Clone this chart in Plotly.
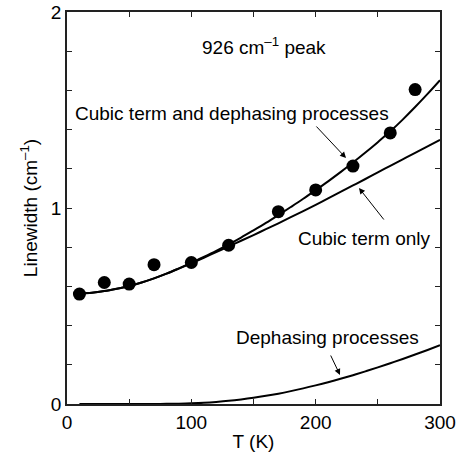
import plotly.graph_objects as go

# measured points
T_data = [10, 30, 50, 70, 100, 130, 170, 200, 230, 260, 280]
W_data = [0.561, 0.620, 0.612, 0.711, 0.722, 0.810, 0.981, 1.092, 1.214, 1.383, 1.604]

# fitted curves
T_fit = [10, 20, 30, 40, 50, 60, 70, 80, 90, 100,
         110, 120, 130, 140, 150, 160, 170, 180, 190, 200,
         210, 220, 230, 240, 250, 260, 270, 280, 290, 300]
W_total = [0.565, 0.568, 0.576, 0.588, 0.602, 0.620, 0.641, 0.665, 0.692, 0.720,
           0.750, 0.781, 0.814, 0.849, 0.886, 0.924, 0.964, 1.005, 1.047, 1.091,
           1.136, 1.183, 1.232, 1.283, 1.336, 1.391, 1.451, 1.515, 1.582, 1.652]
W_cubic = [0.565, 0.568, 0.576, 0.588, 0.602, 0.620, 0.641, 0.665, 0.691, 0.718,
           0.746, 0.775, 0.804, 0.833, 0.862, 0.892, 0.922, 0.953, 0.984, 1.016,
           1.049, 1.082, 1.115, 1.148, 1.182, 1.215, 1.248, 1.281, 1.315, 1.348]
W_deph = [0.0, 0.0, 0.0, 0.0, 0.0, 0.0001, 0.0002, 0.0007, 0.0018, 0.0037,
          0.0066, 0.0108, 0.0163, 0.0233, 0.0317, 0.0416, 0.0528, 0.0656, 0.0796, 0.0949,
          0.1111, 0.1286, 0.1471, 0.1665, 0.1868, 0.2080, 0.2299, 0.2525, 0.2757, 0.2997]

x_ticks = [0, 50, 100, 150, 200, 250, 300]
x_labels = ["0", "", "100", "", "200", "", "300"]
y_ticks = [0, 0.2, 0.4, 0.6, 0.8, 1.0, 1.2, 1.4, 1.6, 1.8, 2.0]
y_labels = ["0", "", "", "", "", "1", "", "", "", "", "2"]

FONT = "Arial, 'Liberation Sans', sans-serif"
FS = 19
ink = "black"

fig = go.Figure()
for yv in (W_total, W_cubic, W_deph):
    fig.add_trace(go.Scatter(x=T_fit, y=yv, mode="lines", line=dict(color=ink, width=2, shape="spline"),
                             hoverinfo="skip", showlegend=False))
fig.add_trace(go.Scatter(x=T_data, y=W_data, mode="markers",
                         marker=dict(color=ink, size=13, line=dict(width=0)), showlegend=False))

axis_common = dict(showline=True, linecolor="#222", linewidth=1.5, mirror="ticks",
                   ticks="inside", ticklen=5, tickwidth=1, tickcolor="#222",
                   showgrid=False, zeroline=False, automargin=False,
                   tickfont=dict(family=FONT, size=FS, color=ink))

fig.update_xaxes(range=[0, 300], tickmode="array", tickvals=x_ticks, ticktext=x_labels,
                 title=dict(text="T (K)", font=dict(family=FONT, size=FS, color=ink), standoff=4),
                 **axis_common)
fig.update_yaxes(range=[0, 2], tickmode="array", tickvals=y_ticks, ticktext=y_labels,
                 title=dict(text="Linewidth (cm<sup>\u20131</sup>)", font=dict(family=FONT, size=FS, color=ink), standoff=8),
                 **axis_common)

def px2data(px, py):
    return (px - 67) / (373 / 300), (404 - py) / 196

annots = []
def text(px, py, s, anchor="left"):
    x, y = px2data(px, py)
    annots.append(dict(x=x, y=y, xref="x", yref="y", text=s, showarrow=False,
                       xanchor=anchor, yanchor="middle",
                       font=dict(family=FONT, size=FS, color=ink)))

def arrow(tail, tip):
    x, y = px2data(*tip)
    annots.append(dict(x=x, y=y, xref="x", yref="y", text="", showarrow=True,
                       ax=tail[0] - tip[0], ay=tail[1] - tip[1], axref="pixel", ayref="pixel",
                       arrowhead=2, arrowsize=1.2, arrowwidth=1, arrowcolor=ink, standoff=0))

text(264, 46, "926 cm<sup>\u20131</sup> peak", anchor="center")
text(73, 113, "Cubic term and dephasing processes")
text(296, 238, "Cubic term only")
text(234, 337, "Dephasing processes")
arrow((315, 125), (346, 158))
arrow((385, 221), (359, 188))
arrow((330, 354), (340, 375))

fig.update_layout(width=460, height=452, margin=dict(l=67, r=20, t=12, b=48),
                  plot_bgcolor="white", paper_bgcolor="white", showlegend=False,
                  annotations=annots, font=dict(family=FONT, size=FS, color=ink))

fig.write_html("out.html")
